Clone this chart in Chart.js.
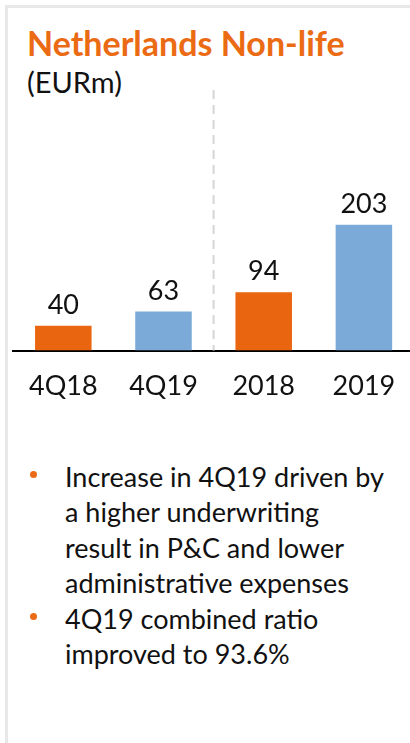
<!DOCTYPE html>
<html>
<head>
<meta charset="utf-8">
<script src="https://cdn.jsdelivr.net/npm/chart.js@4/dist/chart.umd.min.js"></script>
<style>
  body { margin: 0; width: 410px; height: 743px; overflow: hidden; background: #fff; position: relative; font-family: Lato, sans-serif; color: #111; }
  .frame { position: absolute; left: 5px; top: 5px; width: 430px; height: 760px; border-top: 3px solid #e8e8e8; border-left: 3px solid #e8e8e8; }
  #title { position: absolute; left: 27px; top: 26px; font-size: 34px; line-height: 34px; font-weight: bold; color: #eb6a14; white-space: nowrap; }
  #unit { position: absolute; left: 27px; top: 67px; font-size: 29px; line-height: 29px; white-space: nowrap; }
  #chart { position: absolute; left: 10px; top: 83px; }
  #notes { position: absolute; left: 0; top: 459px; font-size: 27px; line-height: 35.4px; }
  .item { position: relative; padding-left: 65px; white-space: nowrap; }
  .item::before { content: ""; position: absolute; left: 30px; top: 12px; width: 7px; height: 7px; border-radius: 50%; background: #eb6a14; }
</style>
</head>
<body>
<div class="frame"></div>
<div id="title">Netherlands Non-life</div>
<div id="unit">(EURm)</div>
<canvas id="chart" width="404" height="338"></canvas>
<div id="notes">
  <div class="item">Increase in 4Q19 driven by<br>a higher underwriting<br>result in P&amp;C and lower<br>administrative expenses</div>
  <div class="item">4Q19 combined ratio<br>improved to 93.6%</div>
</div>
<script>
var periods = ["4Q18", "4Q19", "2018", "2019"];
var results = [40, 63, 94, 203];
var barColors = ["#e9650f", "#7baad8", "#e9650f", "#7baad8"];

var valueLabels = {
  id: "valueLabels",
  afterDatasetsDraw: function(chart) {
    var ctx = chart.ctx;
    var meta = chart.getDatasetMeta(0);
    ctx.save();
    ctx.font = "27px Lato";
    ctx.fillStyle = "#111";
    ctx.textAlign = "center";
    ctx.textBaseline = "alphabetic";
    meta.data.forEach(function(bar, i) {
      ctx.fillText(results[i], bar.x, bar.y - 12);
    });
    ctx.restore();
  }
};

var splitLine = {
  id: "splitLine",
  beforeDatasetsDraw: function(chart) {
    var ctx = chart.ctx;
    var xs = chart.scales.x;
    var x = (xs.getPixelForValue(1) + xs.getPixelForValue(2)) / 2;
    ctx.save();
    ctx.strokeStyle = "#d6d6d6";
    ctx.lineWidth = 2;
    ctx.setLineDash([9, 6]);
    ctx.beginPath();
    ctx.moveTo(x, chart.chartArea.top);
    ctx.lineTo(x, chart.chartArea.bottom);
    ctx.stroke();
    ctx.restore();
  }
};

var ctx = document.getElementById("chart").getContext("2d");
new Chart(ctx, {
  type: "bar",
  data: {
    labels: periods,
    datasets: [{
      data: results,
      backgroundColor: barColors,
      barPercentage: 0.564,
      categoryPercentage: 1
    }]
  },
  options: {
    responsive: false,
    animation: false,
    layout: { padding: { top: 7, left: 0, right: 0, bottom: 0 } },
    plugins: { legend: { display: false }, tooltip: { enabled: false } },
    scales: {
      x: {
        grid: { display: false, drawTicks: false },
        border: { display: true, color: "#000", width: 2 },
        ticks: { color: "#111", font: { family: "Lato", size: 27 }, padding: 19 }
      },
      y: { display: false, min: 0, max: 420 }
    }
  },
  plugins: [valueLabels, splitLine]
});
</script>
</body>
</html>
